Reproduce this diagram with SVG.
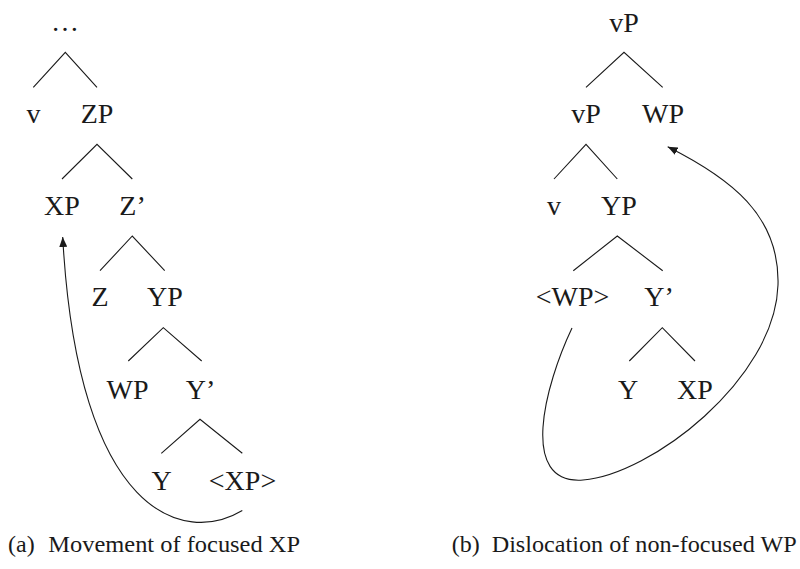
<svg xmlns="http://www.w3.org/2000/svg" width="800" height="569" viewBox="0 0 800 569">
<style>
text{font-family:"Liberation Serif","Times New Roman",serif;fill:#1a1a1a}
.n{font-size:28px;text-anchor:middle}
.cap{font-size:24px}
.e{stroke:#1a1a1a;stroke-width:1.1;fill:none}
.mv{stroke:#1a1a1a;stroke-width:1.1;fill:none;marker-end:url(#ah)}
</style>
<defs>
<marker id="ah" markerUnits="userSpaceOnUse" markerWidth="11" markerHeight="8" refX="10" refY="4" orient="auto">
<path d="M0,0 L10,4 L0,8 z" fill="#1a1a1a"/>
</marker>
</defs>
<rect width="800" height="569" fill="#fff"/>
<g id="tree-a">
<g id="a-top"><text class="n" x="65" y="31">…</text></g>
<g id="a-v"><text class="n" x="33.5" y="123">v</text></g>
<g id="a-ZP"><text class="n" x="97" y="123">ZP</text></g>
<g id="a-XP"><text class="n" x="62" y="215">XP</text></g>
<g id="a-Zbar"><text class="n" x="132.5" y="215">Z’</text></g>
<g id="a-Z"><text class="n" x="100" y="306">Z</text></g>
<g id="a-YP"><text class="n" x="165" y="306">YP</text></g>
<g id="a-WP"><text class="n" x="127.5" y="399">WP</text></g>
<g id="a-Ybar"><text class="n" x="200.5" y="399">Y’</text></g>
<g id="a-Y"><text class="n" x="161.5" y="490">Y</text></g>
<g id="a-XPtrace"><text class="n" x="242.5" y="490">&lt;XP&gt;</text></g>
</g>
<g id="tree-b">
<g id="b-vP-top"><text class="n" x="624" y="32">vP</text></g>
<g id="b-vP"><text class="n" x="586" y="123">vP</text></g>
<g id="b-WP"><text class="n" x="663" y="123">WP</text></g>
<g id="b-v"><text class="n" x="554" y="215">v</text></g>
<g id="b-YP"><text class="n" x="619" y="215">YP</text></g>
<g id="b-WPtrace"><text class="n" x="572.5" y="306">&lt;WP&gt;</text></g>
<g id="b-Ybar"><text class="n" x="659" y="306">Y’</text></g>
<g id="b-Y"><text class="n" x="628" y="399">Y</text></g>
<g id="b-XP"><text class="n" x="695" y="399">XP</text></g>
</g>
<g id="connectors">
<path class="e" d="M33.3,87.3 L65.3,52.3 L97,87.3"/>
<path class="e" d="M62,179 L97,144.3 L132.3,179"/>
<path class="e" d="M100,270.7 L132.3,236 L164.7,270.7"/>
<path class="e" d="M128.3,361 L163.3,327.7 L201.7,361"/>
<path class="e" d="M161.3,453.3 L200,419.3 L242.3,453.3"/>
<path class="e" d="M586,87.3 L624,52.3 L662.7,87.3"/>
<path class="e" d="M554,179 L586,144.3 L617.3,179"/>
<path class="e" d="M573.3,270.7 L617.3,236 L662.7,270.7"/>
<path class="e" d="M629.3,361 L662.3,327.7 L695,361"/>
<path class="mv" d="M242.3,510.5 C185,545 78,518 62.7,237"/>
<path class="mv" d="M572,328 C545,385 518,485 583,480 C650,475 775,380 778,285 C780,215 730,178 667.7,146.7"/>
</g>
<g id="captions">
<text class="cap" x="8" y="552">(a)</text>
<text class="cap" x="48.3" y="552" textLength="251.7" lengthAdjust="spacingAndGlyphs">Movement of focused XP</text>
<text class="cap" x="451.7" y="552">(b)</text>
<text class="cap" x="491.7" y="552" textLength="305" lengthAdjust="spacingAndGlyphs">Dislocation of non-focused WP</text>
</g>
</svg>
